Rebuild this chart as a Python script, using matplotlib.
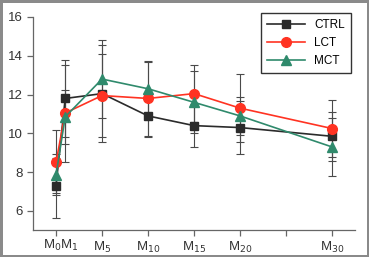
import numpy as np
import matplotlib.pyplot as plt
import matplotlib.transforms as mtransforms

plt.rcParams['font.family'] = ['Liberation Sans', 'DejaVu Sans']

minutes = [0, 1, 5, 10, 15, 20, 30]

ctrl = [7.3, 11.8, 12.05, 10.9, 10.4, 10.3, 9.85]
ctrl_err = [1.65, 2.0, 2.5, 1.1, 1.1, 1.35, 1.25]
lct = [8.5, 11.05, 11.95, 11.8, 12.05, 11.3, 10.25]
lct_err = [1.65, 2.5, 2.15, 1.95, 1.45, 1.76, 1.45]
mct = [7.85, 10.85, 12.8, 12.3, 11.6, 10.9, 9.3]
mct_err = [0.9, 1.4, 2.0, 1.4, 1.6, 1.0, 1.5]

tick_pos = [0, 5, 10, 15, 20, 25, 30]
tick_labels = ['', 'M$_5$', 'M$_{10}$', 'M$_{15}$', 'M$_{20}$', '', 'M$_{30}$']

fig = plt.figure(figsize=(3.69, 2.57), dpi=100, linewidth=2.5, edgecolor='#8a8a8a')
ax = fig.add_axes([0.0894, 0.105, 0.873, 0.829])

series = [
    ('CTRL', ctrl, ctrl_err, '#2b2b2b', 's', 6),
    ('LCT', lct, lct_err, '#ff3322', 'o', 7),
    ('MCT', mct, mct_err, '#2f8a6c', '^', 7),
]
for name, vals, err, col, mk, ms in series:
    ax.errorbar(minutes, vals, yerr=err, fmt='none', ecolor='#4a4a4a',
                elinewidth=0.8, capsize=3, capthick=0.8, zorder=2)
for name, vals, err, col, mk, ms in series:
    ax.plot(minutes, vals, color=col, marker=mk, markersize=ms, lw=1.2,
            label=name, zorder=3)

ax.set_xlim(-2.5, 32.5)
ax.set_ylim(5.02, 16)
ax.set_yticks([6, 8, 10, 12, 14, 16])
ax.set_xticks(tick_pos)
ax.set_xticklabels(tick_labels)
trans = mtransforms.blended_transform_factory(ax.transData, ax.transAxes)
ax.text(0.55, -0.035, 'M$_0$M$_1$', transform=trans, ha='center', va='top',
        fontsize=9.5, color='#333333')

for s in ['top', 'right']:
    ax.spines[s].set_visible(False)
for s in ['left', 'bottom']:
    ax.spines[s].set_color('#666666')
    ax.spines[s].set_linewidth(0.9)
ax.tick_params(direction='out', length=4, width=0.9, colors='#666666',
               labelcolor='#333333', labelsize=9.5)
ax.tick_params(axis='x', pad=3)

leg = ax.legend(loc='upper right', bbox_to_anchor=(1.005, 1.045), fontsize=8.5,
                fancybox=False, edgecolor='#333333', framealpha=1,
                handlelength=3.2, borderpad=0.5, labelspacing=0.5)
leg.get_frame().set_linewidth(1.0)

fig.savefig('out.png', dpi=100)
